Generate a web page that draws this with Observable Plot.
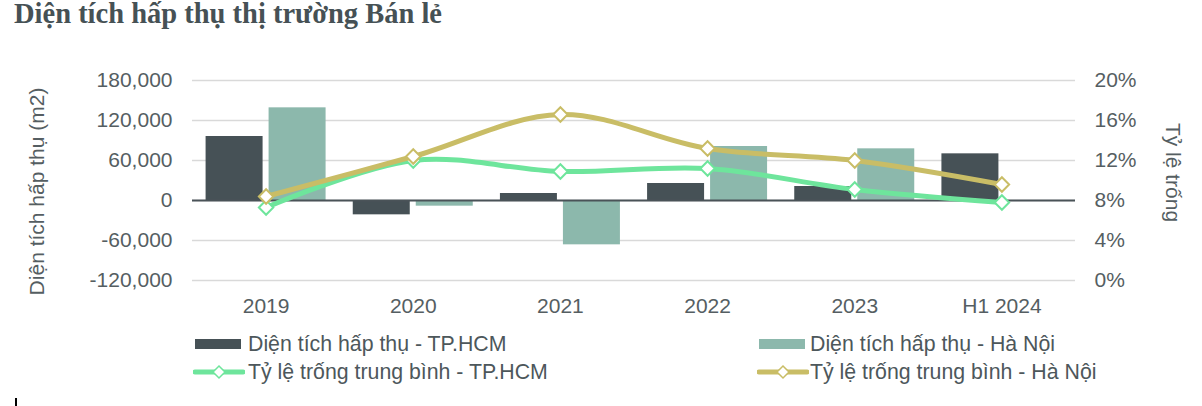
<!DOCTYPE html>
<html><head><meta charset="utf-8">
<script src="https://cdn.jsdelivr.net/npm/d3@7"></script>
<script src="https://cdn.jsdelivr.net/npm/@observablehq/plot@0.6"></script>
<style>
body{margin:0;width:1202px;height:406px;position:relative;background:#fff;font-family:"Liberation Sans",Arial,sans-serif;overflow:hidden}
#title{position:absolute;left:14px;top:-1px;font-family:"Liberation Serif","Times New Roman",serif;font-weight:bold;font-size:28.5px;line-height:30px;color:#465155;white-space:nowrap}
#chart{position:absolute;left:0;top:50px}
.sw{position:absolute}
.lt{position:absolute;font-size:21.3px;line-height:24px;color:#4d575b;white-space:nowrap}
</style></head><body>
<div id="title">Diện tích hấp thụ thị trường Bán lẻ</div>
<div id="chart"></div>
<div id="legend"></div>
<div style="position:absolute;left:15px;top:398px;width:2px;height:8px;background:#000"></div>
<script>
const years = ["2019", "2020", "2021", "2022", "2023", "H1 2024"];
const absorbHCM = [96000, -21500, 10500, 25500, 21000, 70000];
const absorbHN = [139000, -8500, -66500, 81000, 77500, 0];
const vacancyHCM = [7.3, 12.0, 10.9, 11.2, 9.1, 7.8];
const vacancyHN = [8.4, 12.4, 16.6, 13.2, 12.0, 9.6];
const leftTicks = [-120000, -60000, 0, 60000, 120000, 180000];
const rightTicks = [0, 4, 8, 12, 16, 20];
const seriesNames = ["Diện tích hấp thụ - TP.HCM", "Diện tích hấp thụ - Hà Nội", "Tỷ lệ trống trung bình - TP.HCM", "Tỷ lệ trống trung bình - Hà Nội"];
const leftTitle = "Diện tích hấp thụ (m2)";
const rightTitle = "Tỷ lệ trống";

const colors = ["#465156", "#8cb8ac", "#6ee59c", "#c9bd66"];
const toY = p => (p - 8) * 15000;
const fromY = v => Math.round(v / 15000 + 8);
const fmtLeft = v => (v < 0 ? "-" : "") + d3.format(",")(Math.abs(v));

const barsHCM = years.map((y, i) => ({year: y, value: absorbHCM[i]}));
const barsHN = years.map((y, i) => ({year: y, value: absorbHN[i]}));
const lineHCM = years.map((y, i) => ({year: y, v: toY(vacancyHCM[i])}));
const lineHN = years.map((y, i) => ({year: y, v: toY(vacancyHN[i])}));

const chart = Plot.plot({
  width: 1202, height: 270,
  marginTop: 30, marginBottom: 40, marginLeft: 192, marginRight: 127,
  x: {domain: years, paddingInner: 0.6127, paddingOuter: 0.30635, round: false, axis: null},
  y: {domain: [-120000, 180000], axis: null},
  style: {fontFamily: "'Liberation Sans', Arial, sans-serif", fontSize: "21px", color: "#555e62", background: "transparent", overflow: "visible"},
  marks: [
    Plot.gridY(leftTicks, {stroke: "#d9d9d9", strokeOpacity: 1, strokeWidth: 1.3}),
    Plot.axisY({ticks: leftTicks, anchor: "left", tickSize: 0, tickPadding: 20, tickFormat: fmtLeft, label: null}),
    Plot.axisY({ticks: rightTicks.map(toY), anchor: "right", tickSize: 0, tickPadding: 19, tickFormat: v => fromY(v) + "%", label: null}),
    Plot.axisX({tickSize: 0, tickPadding: 18, label: null}),
    Plot.barY(barsHCM, {x: "year", y: "value", fill: colors[0], dx: -31.5}),
    Plot.barY(barsHN, {x: "year", y: "value", fill: colors[1], dx: 31.5}),
    Plot.ruleY([0], {stroke: "#4a5358", strokeWidth: 2}),
    Plot.lineY(lineHCM, {x: "year", y: "v", stroke: colors[2], strokeWidth: 5, curve: "catmull-rom"}),
    Plot.dot(lineHCM, {x: "year", y: "v", symbol: "diamond2", r: 6.5, fill: "white", stroke: colors[2], strokeWidth: 2}),
    Plot.lineY(lineHN, {x: "year", y: "v", stroke: colors[3], strokeWidth: 5, curve: "catmull-rom"}),
    Plot.dot(lineHN, {x: "year", y: "v", symbol: "diamond2", r: 6.5, fill: "white", stroke: colors[3], strokeWidth: 2}),
    Plot.text([leftTitle], {frameAnchor: "left", rotate: -90, textAnchor: "middle", lineAnchor: "middle", dx: -155, dy: 11, fill: "#555e62"}),
    Plot.text([rightTitle], {frameAnchor: "right", rotate: 90, textAnchor: "middle", lineAnchor: "middle", dx: 97, dy: -8, fill: "#555e62"})
  ]
});
document.getElementById("chart").appendChild(chart);

// Legend
const leg = document.getElementById("legend");
const items = [
  {type: "bar", color: colors[0], name: seriesNames[0], sx: 195, tx: 248, cy: 344},
  {type: "bar", color: colors[1], name: seriesNames[1], sx: 759, tx: 810, cy: 344},
  {type: "line", color: colors[2], name: seriesNames[2], sx: 193, tx: 248, cy: 372},
  {type: "line", color: colors[3], name: seriesNames[3], sx: 757, tx: 810, cy: 372}
];
for (const it of items) {
  const ns = "http://www.w3.org/2000/svg";
  const svg = document.createElementNS(ns, "svg");
  svg.setAttribute("class", "sw");
  if (it.type === "bar") {
    svg.setAttribute("width", 46); svg.setAttribute("height", 10);
    svg.style.left = it.sx + "px"; svg.style.top = (it.cy - 5) + "px";
    const r = document.createElementNS(ns, "rect");
    r.setAttribute("width", 46); r.setAttribute("height", 10); r.setAttribute("fill", it.color);
    svg.appendChild(r);
  } else {
    svg.setAttribute("width", 52); svg.setAttribute("height", 16);
    svg.style.left = it.sx + "px"; svg.style.top = (it.cy - 8) + "px";
    const l = document.createElementNS(ns, "line");
    l.setAttribute("x1", 2); l.setAttribute("x2", 50); l.setAttribute("y1", 8); l.setAttribute("y2", 8);
    l.setAttribute("stroke", it.color); l.setAttribute("stroke-width", 5); l.setAttribute("stroke-linecap", "round");
    svg.appendChild(l);
    const p = document.createElementNS(ns, "path");
    p.setAttribute("d", "M26,2 L32,8 L26,14 L20,8 Z");
    p.setAttribute("fill", "white"); p.setAttribute("stroke", it.color); p.setAttribute("stroke-width", 1.5);
    svg.appendChild(p);
  }
  leg.appendChild(svg);
  const t = document.createElement("div");
  t.className = "lt"; t.textContent = it.name;
  t.style.left = it.tx + "px"; t.style.top = (it.cy - 12) + "px";
  leg.appendChild(t);
}
</script>
</body></html>
